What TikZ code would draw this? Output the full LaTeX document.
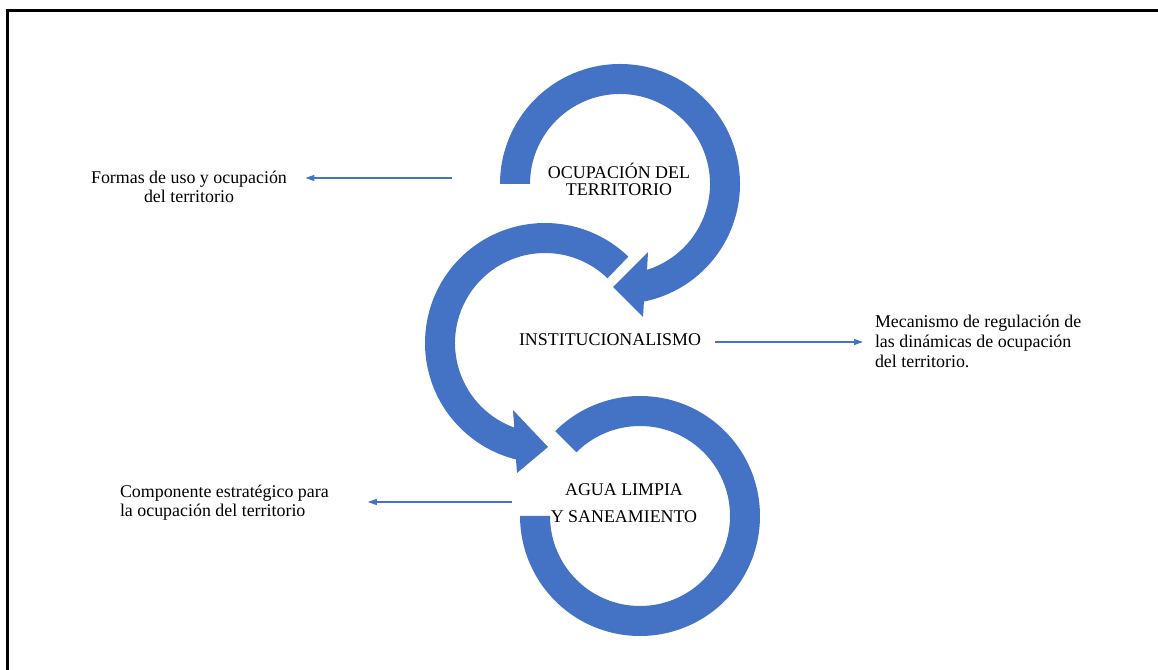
\documentclass[tikz,border=0pt]{standalone}
\usepackage{fontspec}
\setmainfont{Liberation Serif}
\usetikzlibrary{arrows.meta}
\definecolor{ringblue}{RGB}{68,114,196}
\begin{document}
\begin{tikzpicture}[x=1pt,y=1pt,
  ring/.style={fill=ringblue},
  lbl/.style={inner sep=0pt, outer sep=0pt, text=black},
  link/.style={draw=ringblue, line width=1.2pt, -{Triangle[length=9pt,width=6pt]}}]
\useasboundingbox (0,0) rectangle (1158,669);
\begin{scope}
\clip (0,0) rectangle (1158,669);
\draw[line width=3pt] (7.5,658.5) rectangle (1180,-20);
\end{scope}
% top ring
\fill[ring] ([shift={(620,485)}]180:120) arc[start angle=180, end angle=-78.5, radius=120]
  -- (643,352) -- (613,382) -- (648,417)
  -- ([shift={(620,485)}]-72.5:90) arc[start angle=-72.5, end angle=180, radius=90] -- cycle;
% middle ring
\fill[ring] ([shift={(545,326)}]46:120) arc[start angle=46, end angle=256, radius=120]
  -- (517,196) -- (548,222) -- (513,259)
  -- ([shift={(545,326)}]250:90) arc[start angle=250, end angle=46, radius=90] -- cycle;
% bottom ring
\fill[ring] ([shift={(640,153)}]135:120) arc[start angle=135, end angle=-180, radius=120]
  -- ([shift={(640,153)}]-180:90) arc[start angle=-180, end angle=135, radius=90] -- cycle;
% labels
\node[lbl, align=center, anchor=north, font=\fontsize{17.9}{17}\selectfont] (ocup) at (619,505.6) {OCUPACIÓN DEL\\TERRITORIO};
\node[lbl, anchor=base, font=\fontsize{17.9}{20}\selectfont] (inst) at (610,323) {INSTITUCIONALISMO};
\node[lbl, align=center, anchor=north, font=\fontsize{17.9}{27}\selectfont] (agua) at (624,185.6) {AGUA LIMPIA\\Y SANEAMIENTO};
\node[lbl, align=center, anchor=north, font=\fontsize{17.9}{19.5}\selectfont] (formas) at (189,498) {Formas de uso y ocupación\\del territorio};
\node[lbl, align=left, anchor=north west, font=\fontsize{17.9}{20}\selectfont] (meca) at (875,354) {Mecanismo de regulación de\\las dinámicas de ocupación\\del territorio.};
\node[lbl, align=left, anchor=north west, font=\fontsize{17.9}{19}\selectfont] (comp) at (120,184) {Componente estratégico para\\la ocupación del territorio};
% connectors
\coordinate (s1) at (452,491);
\coordinate (s2) at (715,327);
\coordinate (s3) at (512,167);
\draw[link, shorten >=18.5pt] (s1) -- (s1 -| formas.east);
\draw[link, shorten >=12pt] (s2) -- (s2 -| meca.west);
\draw[link, shorten >=39pt] (s3) -- (s3 -| comp.east);
\end{tikzpicture}
\end{document}
